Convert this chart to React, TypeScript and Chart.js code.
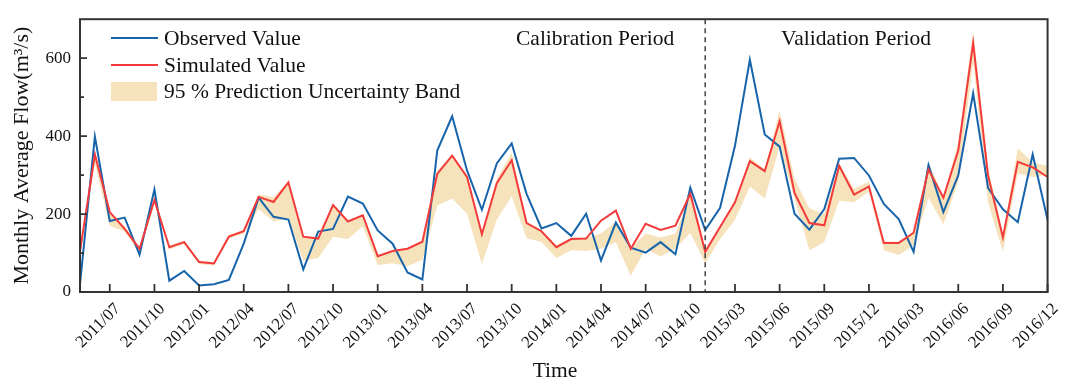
import React, { useEffect, useRef } from 'react';
import { Chart, registerables } from 'chart.js';

Chart.register(...registerables);

const SERIF = '"Liberation Serif", "Times New Roman", serif';

const categories = [
  '2011/05', '2011/06', '2011/07', '2011/08', '2011/09', '2011/10', '2011/11', '2011/12',
  '2012/01', '2012/02', '2012/03', '2012/04', '2012/05', '2012/06', '2012/07', '2012/08', '2012/09', '2012/10', '2012/11', '2012/12',
  '2013/01', '2013/02', '2013/03', '2013/04', '2013/05', '2013/06', '2013/07', '2013/08', '2013/09', '2013/10', '2013/11', '2013/12',
  '2014/01', '2014/02', '2014/03', '2014/04', '2014/05', '2014/06', '2014/07', '2014/08', '2014/09', '2014/10',
  '2015/01', '2015/02', '2015/03', '2015/04', '2015/05', '2015/06', '2015/07', '2015/08', '2015/09', '2015/10', '2015/11', '2015/12',
  '2016/01', '2016/02', '2016/03', '2016/04', '2016/05', '2016/06', '2016/07', '2016/08', '2016/09', '2016/10', '2016/11', '2016/12',
];

const tickLabels = [
  '2011/07', '2011/10', '2012/01', '2012/04', '2012/07', '2012/10', '2013/01', '2013/04',
  '2013/07', '2013/10', '2014/01', '2014/04', '2014/07', '2014/10', '2015/03', '2015/06',
  '2015/09', '2015/12', '2016/03', '2016/06', '2016/09', '2016/12',
];

const observed = [
  20, 399, 182, 191, 96, 263, 29, 54, 17, 20, 31, 124,
  242, 193, 186, 58, 155, 162, 245, 227, 158, 124, 50, 32,
  363, 451, 312, 211, 330, 381, 252, 163, 177, 144, 201, 81,
  178, 114, 101, 128, 97, 268, 159, 216, 375, 596, 404, 373,
  201, 160, 213, 342, 344, 299, 226, 187, 103, 326, 205, 299,
  510, 267, 212, 179, 353, 185,
];

const simulated = [
  105, 353, 205, 162, 111, 236, 115, 128, 77, 73, 142, 156,
  244, 231, 281, 142, 137, 223, 181, 197, 92, 105, 111, 129,
  303, 350, 295, 148, 279, 338, 177, 156, 115, 136, 137, 183,
  209, 111, 175, 159, 170, 252, 103, 167, 230, 336, 310, 438,
  254, 177, 171, 324, 250, 271, 126, 126, 152, 314, 242, 363,
  639, 299, 140, 334, 320, 295,
];

const bandLower = [
  95, 330, 170, 155, 100, 228, 110, 123, 72, 68, 137, 150,
  213, 181, 189, 80, 87, 142, 136, 169, 69, 74, 66, 83,
  222, 240, 201, 72, 186, 246, 138, 128, 87, 107, 105, 111,
  128, 42, 111, 91, 111, 152, 73, 136, 185, 271, 240, 373,
  240, 107, 128, 234, 230, 258, 107, 95, 120, 242, 173, 283,
  590, 230, 103, 304, 295, 300,
];

const bandUpper = [
  110, 362, 207, 168, 114, 242, 119, 132, 81, 77, 146, 160,
  250, 244, 283, 144, 140, 225, 183, 200, 95, 107, 113, 131,
  312, 352, 297, 150, 290, 357, 180, 160, 120, 140, 139, 150,
  180, 113, 150, 140, 150, 250, 110, 169, 232, 345, 315, 465,
  290, 215, 200, 330, 265, 283, 130, 128, 154, 332, 244, 385,
  670, 320, 150, 369, 332, 324,
];

const yMajor = [0, 200, 400, 600];
const yMinor = [100, 300, 500];
const dividerCategory = '2015/01';

const BLUE = '#1764ab';
const RED = '#f33b3c';
const BAND = '#f6e2bb';
const AXIS = '#333333';
const TEXT = '#111111';

const overlay = {
  id: 'overlay',
  afterDraw(chart: any) {
    const { ctx, chartArea } = chart;
    const { left, right, top, bottom } = chartArea;
    const xs = chart.scales.x;
    const ys = chart.scales.y;
    ctx.save();

    // divider dashed line
    const dx = xs.getPixelForValue(categories.indexOf(dividerCategory));
    ctx.strokeStyle = '#444';
    ctx.lineWidth = 1.5;
    ctx.setLineDash([5, 4]);
    ctx.beginPath();
    ctx.moveTo(dx, top);
    ctx.lineTo(dx, bottom);
    ctx.stroke();
    ctx.setLineDash([]);

    // frame
    ctx.strokeStyle = AXIS;
    ctx.lineWidth = 2;
    ctx.strokeRect(left, top, right - left, bottom - top);

    // ticks
    ctx.lineWidth = 1.8;
    ctx.beginPath();
    yMajor.forEach((v) => {
      const y = ys.getPixelForValue(v);
      ctx.moveTo(left, y);
      ctx.lineTo(left + 7, y);
    });
    yMinor.forEach((v) => {
      const y = ys.getPixelForValue(v);
      ctx.moveTo(left, y);
      ctx.lineTo(left + 4, y);
    });
    tickLabels.forEach((lab) => {
      const x = xs.getPixelForValue(categories.indexOf(lab));
      ctx.moveTo(x, bottom);
      ctx.lineTo(x, bottom - 8);
    });
    ctx.stroke();

    // legend
    ctx.lineWidth = 2;
    ctx.strokeStyle = BLUE;
    ctx.beginPath();
    ctx.moveTo(111, 38);
    ctx.lineTo(158, 38);
    ctx.stroke();
    ctx.strokeStyle = RED;
    ctx.beginPath();
    ctx.moveTo(111, 65);
    ctx.lineTo(158, 65);
    ctx.stroke();
    ctx.fillStyle = BAND;
    ctx.fillRect(111, 82, 46, 19);

    ctx.fillStyle = TEXT;
    ctx.font = `21.5px ${SERIF}`;
    ctx.textAlign = 'left';
    ctx.textBaseline = 'middle';
    ctx.fillText('Observed Value', 164, 39);
    ctx.fillText('Simulated Value', 164, 66);
    ctx.fillText('95 % Prediction Uncertainty Band', 164, 92);

    ctx.fillText('Calibration Period', 516, 39);
    ctx.fillText('Validation Period', 781, 39);

    // x-axis title
    ctx.textAlign = 'center';
    ctx.fillText('Time', 555, 371);
    ctx.restore();
  },
};

export default function App() {
  const ref = useRef<HTMLCanvasElement | null>(null);

  useEffect(() => {
    document.body.style.margin = '0';
    const canvas = ref.current;
    if (!canvas) return;
    const tickSet = new Set(tickLabels);
    const chart = new Chart(canvas, {
      type: 'line',
      data: {
        labels: categories,
        datasets: [
          {
            label: 'lower',
            data: bandLower,
            borderWidth: 0,
            borderColor: 'rgba(0,0,0,0)',
            pointRadius: 0,
            fill: false,
            order: 3,
          },
          {
            label: '95 % Prediction Uncertainty Band',
            data: bandUpper,
            borderWidth: 0,
            borderColor: 'rgba(0,0,0,0)',
            backgroundColor: BAND,
            pointRadius: 0,
            fill: '-1',
            order: 2,
          },
          {
            label: 'Observed Value',
            data: observed,
            borderColor: BLUE,
            borderWidth: 2,
            pointRadius: 0,
            fill: false,
            order: 1,
          },
          {
            label: 'Simulated Value',
            data: simulated,
            borderColor: RED,
            borderWidth: 2,
            pointRadius: 0,
            fill: false,
            order: 0,
          },
        ],
      },
      options: {
        responsive: false,
        animation: false,
        events: [],
        layout: { padding: { left: 0, right: 13, top: 8, bottom: 0 } },
        elements: { line: { tension: 0 } },
        plugins: {
          legend: { display: false },
          tooltip: { enabled: false },
        },
        scales: {
          x: {
            type: 'category',
            grid: { display: false, drawTicks: false },
            border: { display: false },
            ticks: {
              autoSkip: false,
              minRotation: 45,
              maxRotation: 45,
              padding: 7,
              labelOffset: 8,
              color: TEXT,
              font: { family: SERIF, size: 17 },
              callback: (_v: any, i: number) => (tickSet.has(categories[i]) ? categories[i] : null),
            },
            title: { display: false },
            afterFit: (s: any) => {
              s.height = 90;
            },
          },
          y: {
            min: 0,
            max: 700,
            grid: { display: false, drawTicks: false },
            border: { display: false },
            afterBuildTicks: (s: any) => {
              s.ticks = yMajor.map((v) => ({ value: v }));
            },
            ticks: {
              padding: 9,
              color: TEXT,
              font: { family: SERIF, size: 17 },
            },
            title: {
              display: true,
              text: 'Monthly Average Flow(m³/s)',
              color: TEXT,
              font: { family: SERIF, size: 22 },
              padding: { top: 9, bottom: 0 },
            },
            afterFit: (s: any) => {
              s.width = 80;
            },
          },
        },
      },
      plugins: [overlay],
    });
    return () => chart.destroy();
  }, []);

  return (
    <div style={{ width: 1069, height: 382, position: 'relative' }}>
      <canvas ref={ref} width={1069} height={382} />
    </div>
  );
}
